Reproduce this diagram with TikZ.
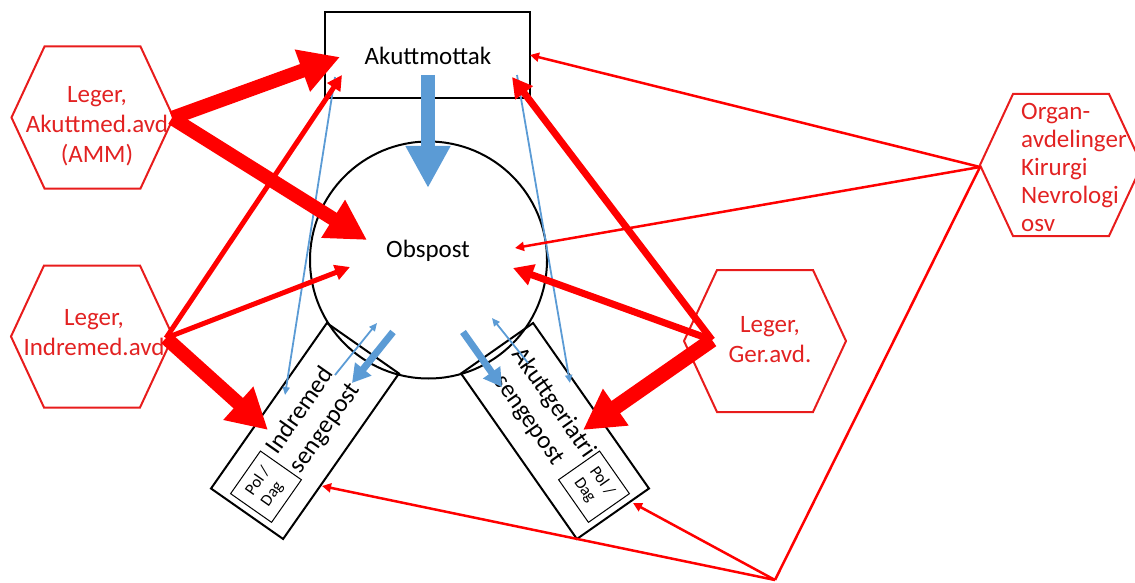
\documentclass[tikz,border=0pt]{standalone}
\usepackage{fontspec}
\setmainfont{Carlito}
\usetikzlibrary{arrows.meta,calc}
\definecolor{hexred}{RGB}{232,28,28}
\definecolor{txtred}{RGB}{226,34,34}
\definecolor{flowred}{RGB}{255,0,0}
\definecolor{flowblue}{RGB}{91,155,213}
\begin{document}
\begin{tikzpicture}[x=1pt,y=-1pt,
  hexline/.style={draw=hexred,line width=2pt,line join=miter},
  hextext/.style={text=txtred,font=\fontsize{25}{30}\selectfont,align=center,inner sep=0pt},
  unitbox/.style={draw=black,line width=2pt},
  unittext/.style={font=\fontsize{25}{30}\selectfont,text=black,align=center,inner sep=0pt},
  poltext/.style={draw=black,line width=1pt,minimum width=52pt,minimum height=50pt,
    font=\fontsize{16.5}{19}\selectfont,align=left,inner sep=0pt},
  thickred/.style={draw=flowred,line width=14pt,-{Triangle[width=42pt,length=40pt]}},
  midred/.style={draw=flowred,line width=5pt,-{Triangle[width=15pt,length=15pt]}},
  midredb/.style={draw=flowred,line width=7pt,-{Triangle[width=21pt,length=20pt]}},
  thinred/.style={draw=flowred,line width=2.5pt,-{Triangle[width=9pt,length=9pt]}},
  thickblue/.style={draw=flowblue,line width=14pt,-{Triangle[width=42pt,length=42pt]}},
  midblue/.style={draw=flowblue,line width=7pt,-{Triangle[width=20pt,length=18pt]}},
  thinblue/.style={draw=flowblue,line width=1.8pt,-{Triangle[width=7pt,length=8pt]}},
  hexagon/.pic={\draw[hexline] (-81,0) -- (-48,-71) -- (48,-71) -- (81,0) -- (48,71) -- (-48,71) -- cycle;}
]
\useasboundingbox (0,0) rectangle (1135,583);
\clip (0,0) rectangle (1135,583);

% ---- physician groups (hexagons) ----
\pic at (92.5,117.5) {hexagon};
\node[hextext] (amm) at (97,126) {Leger,\\Akuttmed.avd\\(AMM)};
\pic at (92,336.5) {hexagon};
\node[hextext] (ind) at (94,333) {Leger,\\Indremed.avd};
\pic at (765,341) {hexagon};
\node[hextext] (ger) at (770,340) {Leger,\\Ger.avd.};
\pic at (1061,165) {hexagon};
\node[hextext,align=left,anchor=west,font=\fontsize{25}{28}\selectfont] (org) at (1021,167)
  {Organ-\\avdelinger\\Kirurgi\\Nevrologi\\osv};

% ---- units ----
\node[unitbox,minimum width=205pt,minimum height=86pt,inner sep=0pt] (akm) at (427.5,55) {};
\node[unittext] (akmtxt) at (428,56) {Akuttmottak};
\node[unitbox,circle,minimum size=237pt,inner sep=0pt] (obs) at (428.5,260) {};
\node[unittext] (obstxt) at (428,251) {Obspost};

\node[unitbox,minimum width=202pt,minimum height=88pt,inner sep=0pt,rotate=55] (isp) at (305,431) {};
\node[unittext,rotate=55] (isptxt) at ($(isp.center)!14pt!(isp.east)$) {Indremed\\sengepost};
\node[poltext,rotate=55] (ipd) at ($(isp.center)!68pt!(isp.west)$) {Pol /\\Dag};

\node[unitbox,minimum width=202pt,minimum height=88pt,inner sep=0pt,rotate=-55] (gsp) at (555,431) {};
\node[unittext,rotate=-55] (gsptxt) at ($(gsp.center)!24pt!(gsp.west)$) {Akuttgeriatri\\sengepost};
\node[poltext,rotate=-55] (gpd) at ($(gsp.center)!68pt!(gsp.east)$) {Pol /\\Dag};

% ---- connector end points ----
\coordinate (amm-r) at (172,118);
\coordinate (ind-r) at (166,338);
\coordinate (ger-l) at (712,340);
\coordinate (org-l) at (980,167);
\coordinate (hub) at (775,580);

\coordinate (akm-a) at (340,57);
\coordinate (akm-b) at (342,75);
\coordinate (akm-c) at (512,77);
\coordinate (akm-d) at (530,55);
\coordinate (akm-top) at (428,75);
\coordinate (akm-bl) at (335,77);
\coordinate (akm-br) at (517,75);

\coordinate (obs-a) at (367,240);
\coordinate (obs-b) at (350,267);
\coordinate (obs-c) at (513,268);
\coordinate (obs-d) at (515,248);
\coordinate (obs-top) at (428,188);
\coordinate (obs-bl) at (393,332);
\coordinate (obs-br) at (463,332);
\coordinate (obs-il) at (377,323);
\coordinate (obs-ir) at (492,318);

\coordinate (isp-a) at (268,430);
\coordinate (isp-b) at (322,486);
\coordinate (isp-top) at (285,395);
\coordinate (isp-in) at (352,383);
\coordinate (isp-out) at (335,375);

\coordinate (gsp-a) at (583,430);
\coordinate (gsp-b) at (633,503);
\coordinate (gsp-top) at (570,383);
\coordinate (gsp-in) at (502,387);
\coordinate (gsp-out) at (528,363);

% ---- patient flow (blue) ----
\draw[thickblue] (akm-top) -- (obs-top);
\draw[thinblue] (akm-bl) -- (isp-top);
\draw[thinblue] (akm-br) -- (gsp-top);
\draw[midblue] (obs-bl) -- (isp-in);
\draw[midblue] (obs-br) -- (gsp-in);
\draw[thinblue] (isp-out) -- (obs-il);
\draw[thinblue] (gsp-out) -- (obs-ir);

% ---- physician coverage (red) ----
\draw[thickred] (amm-r) -- (akm-a);
\draw[thickred] (amm-r) -- (obs-a);
\draw[midred] (ind-r) -- (akm-b);
\draw[midred] (ind-r) -- (obs-b);
\draw[thickred] (ind-r) -- (isp-a);
\draw[midredb] (ger-l) -- (akm-c);
\draw[midredb] (ger-l) -- (obs-c);
\draw[thickred,line width=15pt] (ger-l) -- (gsp-a);
\draw[thinred] (org-l) -- (akm-d);
\draw[thinred] (org-l) -- (obs-d);
\draw[draw=flowred,line width=2.5pt] (org-l) -- (hub);
\draw[thinred] (hub) -- (isp-b);
\draw[thinred] (hub) -- (gsp-b);
\end{tikzpicture}
\end{document}
